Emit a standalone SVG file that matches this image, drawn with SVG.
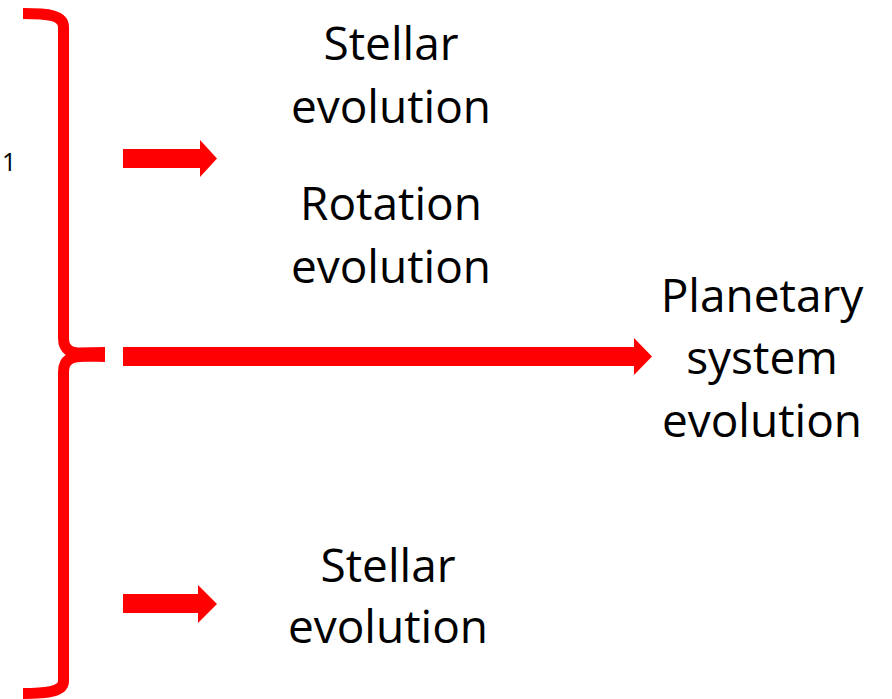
<svg xmlns="http://www.w3.org/2000/svg" width="892" height="699" viewBox="0 0 892 699">
  <style>
    .lbl { font-family: "Open Sans", "Noto Sans", "Liberation Sans", sans-serif; font-size: 46px; fill: #000; text-anchor: middle; }
    .small { font-family: "Open Sans", "Noto Sans", "Liberation Sans", sans-serif; font-size: 25px; fill: #000; }
    .brace { fill: none; stroke: #FF0000; stroke-width: 11; stroke-linejoin: round; }
    .arrow { fill: #FF0000; stroke: none; }
  </style>
  <rect width="892" height="699" fill="#FFFFFF"/>

  <g id="brace">
    <path class="brace" d="M23,13.5 C48,13.5 63.5,15 63.5,27 L63.5,338 C63.5,350 70,354.5 90,354.5"/>
    <path class="brace" d="M90,355.5 C70,355.5 63.5,360 63.5,372 L63.5,681 C63.5,691 50,693.5 23,693.5"/>
    <path class="arrow" d="M66,347 C78,348 92,347 105,347 L105,362 C92,362 78,361 66,364 Z"/>
  </g>
  <text class="small" x="2" y="171">1</text>

  <g id="connectors">
    <path id="arrow-top" class="arrow" d="M123,149 L200,149 L200,140 L217,158.5 L200,177 L200,168 L123,168 Z"/>
    <path id="arrow-main" class="arrow" d="M123,347 L634,347 L634,338 L652,356.5 L634,375 L634,366 L123,366 Z"/>
    <path id="arrow-bottom" class="arrow" d="M123,594 L198,594 L198,585 L217,604 L198,623 L198,613 L123,613 Z"/>
  </g>

  <g id="node-stellar-top">
    <text class="lbl" x="391" y="60">Stellar</text>
    <text class="lbl" x="391" y="123">evolution</text>
  </g>
  <g id="node-rotation">
    <text class="lbl" x="391" y="220">Rotation</text>
    <text class="lbl" x="391" y="283">evolution</text>
  </g>
  <g id="node-planetary">
    <text class="lbl" x="762" y="312">Planetary</text>
    <text class="lbl" x="762" y="374">system</text>
    <text class="lbl" x="762" y="437">evolution</text>
  </g>
  <g id="node-stellar-bottom">
    <text class="lbl" x="388" y="582">Stellar</text>
    <text class="lbl" x="388" y="643">evolution</text>
  </g>
</svg>
